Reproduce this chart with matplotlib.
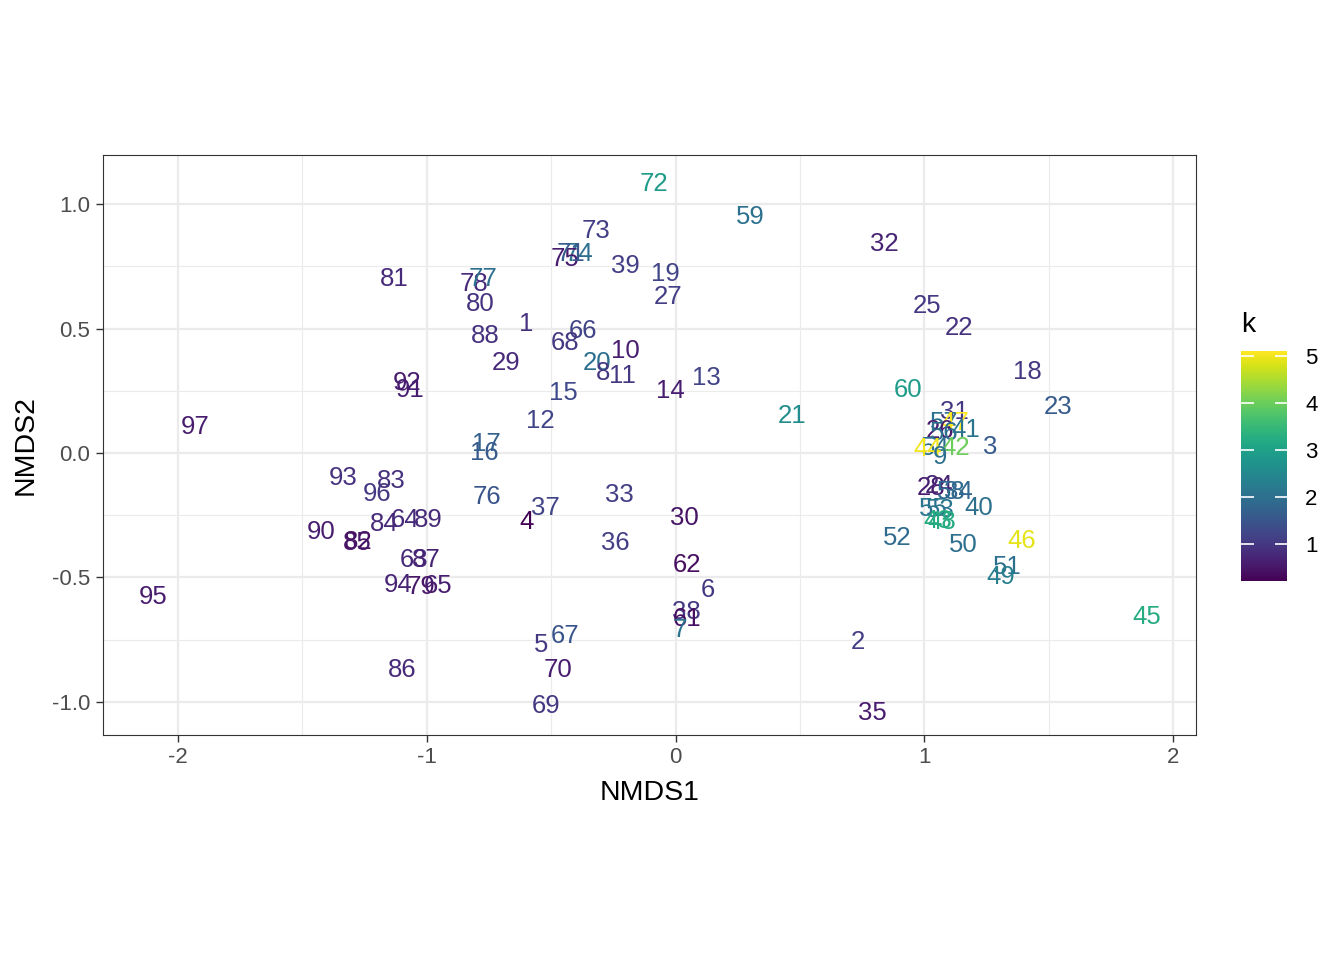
import matplotlib
matplotlib.use("Agg")
import matplotlib.pyplot as plt
import numpy as np
from matplotlib import cm, colors

plt.rcParams['font.family'] = ['Liberation Sans', 'DejaVu Sans']

# site labels, ordination scores and k value
labels = ["72", "59", "73", "74", "75", "71", "39", "19", "27", "32",
          "81", "78", "77", "80", "1", "88", "66", "68", "10", "20",
          "8", "11", "29", "92", "91", "15", "14", "13", "97", "12",
          "17", "16", "21", "60", "25", "22", "18", "23", "3", "93",
          "83", "96", "76", "37", "4", "33", "30", "36", "90", "82",
          "85", "84", "64", "89", "63", "87", "94", "79", "65", "95",
          "62", "6", "38", "61", "7", "5", "67", "70", "86", "69",
          "2", "35", "52", "50", "46", "51", "49", "45", "40", "31",
          "57", "47", "26", "56", "41", "54", "44", "42", "9", "28",
          "24", "58", "34", "55", "53", "43", "48"]
nmds1 = [-0.086, 0.30, -0.32, -0.39, -0.445, -0.42, -0.20, -0.04, -0.03, 0.84,
         -1.13, -0.81, -0.775, -0.785, -0.60, -0.765, -0.37, -0.445, -0.20, -0.315,
         -0.29, -0.215, -0.68, -1.08, -1.065, -0.45, -0.02, 0.125, -1.93, -0.545,
         -0.76, -0.77, 0.47, 0.935, 1.01, 1.14, 1.413, 1.538, 1.265, -1.336,
         -1.143, -1.20, -0.758, -0.525, -0.597, -0.227, 0.034, -0.243, -1.425, -1.276,
         -1.28, -1.17, -1.087, -0.995, -1.051, -1.003, -1.115, -1.023, -0.955, -2.10,
         0.046, 0.13, 0.042, 0.046, 0.018, -0.54, -0.445, -0.472, -1.10, -0.52,
         0.734, 0.79, 0.89, 1.156, 1.389, 1.333, 1.305, 1.895, 1.22, 1.12,
         1.08, 1.12, 1.063, 1.08, 1.168, 1.043, 1.015, 1.124, 1.063, 1.027,
         1.06, 1.108, 1.136, 1.035, 1.063, 1.055, 1.07]
nmds2 = [1.092, 0.96, 0.90, 0.81, 0.79, 0.81, 0.76, 0.73, 0.635, 0.85,
         0.71, 0.69, 0.71, 0.61, 0.53, 0.48, 0.50, 0.45, 0.42, 0.37,
         0.33, 0.32, 0.37, 0.29, 0.265, 0.25, 0.26, 0.31, 0.115, 0.14,
         0.048, 0.008, 0.157, 0.265, 0.60, 0.514, 0.337, 0.193, 0.036, -0.092,
         -0.104, -0.153, -0.165, -0.213, -0.269, -0.157, -0.253, -0.353, -0.309, -0.349,
         -0.35, -0.277, -0.261, -0.261, -0.418, -0.418, -0.522, -0.53, -0.526, -0.57,
         -0.442, -0.542, -0.627, -0.655, -0.703, -0.763, -0.727, -0.863, -0.86, -1.008,
         -0.751, -1.036, -0.333, -0.361, -0.345, -0.45, -0.49, -0.647, -0.213, 0.173,
         0.129, 0.129, 0.10, 0.092, 0.104, 0.032, 0.024, 0.032, -0.008, -0.129,
         -0.124, -0.145, -0.145, -0.217, -0.221, -0.265, -0.269]
k = [2.9, 2.0, 1.1, 2.0, 0.6, 1.6, 1.1, 1.2, 1.1, 0.7,
     0.8, 0.8, 2.0, 0.9, 0.9, 0.9, 1.2, 1.0, 0.6, 2.0,
     1.0, 1.0, 0.8, 0.6, 0.6, 1.3, 0.6, 1.2, 0.6, 1.2,
     1.7, 1.6, 2.6, 2.9, 1.0, 0.9, 1.0, 1.6, 1.6, 0.9,
     0.9, 1.0, 1.5, 1.2, 0.21, 1.1, 0.45, 1.1, 0.6, 0.4,
     0.5, 0.8, 0.8, 0.8, 0.8, 0.7, 0.7, 0.5, 0.6, 0.6,
     0.4, 1.0, 1.0, 0.4, 2.1, 1.0, 1.5, 0.6, 0.8, 1.0,
     1.1, 0.6, 1.9, 2.0, 4.9, 2.0, 2.3, 3.2, 2.0, 1.0,
     2.0, 5.1, 0.6, 2.0, 2.1, 2.0, 5.0, 4.0, 2.0, 0.6,
     0.7, 1.9, 1.8, 2.1, 2.1, 3.2, 3.2]

fig = plt.figure(figsize=(13.44, 9.6), dpi=100)
ax = fig.add_axes([0.0766, 0.2344, 0.8134, 0.6041])

norm = colors.Normalize(vmin=min(k), vmax=max(k))
cmap = plt.get_cmap('viridis')

for lab, x, y, v in zip(labels, nmds1, nmds2, k):
    ax.text(x, y, lab, color=cmap(norm(v)), fontsize=18.5,
            ha='center', va='center_baseline')

ax.set_xlim(-2.301, 2.092)
ax.set_ylim(-1.133, 1.197)
ax.set_xticks([-2, -1, 0, 1, 2])
ax.set_xticklabels(["-2", "-1", "0", "1", "2"])
ax.set_yticks([-1.0, -0.5, 0.0, 0.5, 1.0])
ax.set_yticklabels(["-1.0", "-0.5", "0.0", "0.5", "1.0"])
ax.set_xticks([-1.5, -0.5, 0.5, 1.5], minor=True)
ax.set_yticks([-0.75, -0.25, 0.25, 0.75], minor=True)
ax.grid(which='major', color='#EBEBEB', linewidth=1.6)
ax.grid(which='minor', color='#EBEBEB', linewidth=0.8)
ax.set_axisbelow(True)
ax.tick_params(which='major', length=5, width=1, color='#333333',
               labelsize=16, labelcolor='#4D4D4D', pad=4)
ax.tick_params(which='minor', length=0)
for s in ax.spines.values():
    s.set_color('#333333')
    s.set_linewidth(0.8)
ax.set_xlabel('NMDS1', fontsize=20.5, labelpad=8)
ax.set_ylabel('NMDS2', fontsize=20.5, labelpad=10)

# colour bar legend
cax = fig.add_axes([0.9234, 0.3948, 0.0342, 0.2396])
sm = cm.ScalarMappable(norm=norm, cmap=cmap)
cb = fig.colorbar(sm, cax=cax)
cb.outline.set_visible(False)
cb.set_ticks([1, 2, 3, 4, 5])
cax.yaxis.set_ticks_position('both')
cax.tick_params(direction='in', length=9, width=1.2, color='white',
                labelsize=16, labelcolor='black', pad=13,
                left=True, right=True, labelleft=False, labelright=True)
fig.text(0.9234, 0.661, 'k', fontsize=20.5, ha='left', va='center')

fig.savefig('out.png', dpi=100)
